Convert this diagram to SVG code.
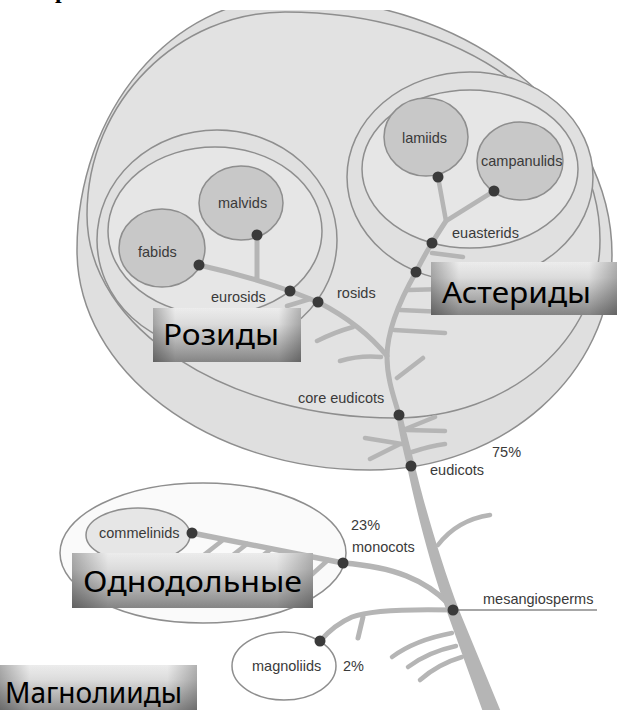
<svg xmlns="http://www.w3.org/2000/svg" width="627" height="710" viewBox="0 0 627 710">
<defs>
<style>
.ring{stroke:#8e8e8e;stroke-width:1.5}
.clade{fill:#c8c8c8;stroke:#8e8e8e;stroke-width:1.5}
.br{fill:none;stroke:#b5b5b5;stroke-linecap:round;stroke-linejoin:round}
.dot{fill:#3a3a3a}
.lbl{font-family:"Liberation Sans",Arial,sans-serif;font-size:14.5px;fill:#3a3a3a}
.big{font-family:"Noto Sans","Open Sans",sans-serif;font-size:29px;fill:#000}
</style>
<clipPath id="top"><rect x="0" y="10" width="627" height="700"/></clipPath>
<linearGradient id="btnV" x1="0" y1="0" x2="0" y2="1">
<stop offset="0" stop-color="#f6f6f6"/>
<stop offset="0.3" stop-color="#e4e4e4"/>
<stop offset="1" stop-color="#8a8a8a"/>
</linearGradient>
<linearGradient id="btnH" x1="0" y1="0" x2="1" y2="0">
<stop offset="0" stop-color="#000" stop-opacity="0.3"/>
<stop offset="0.15" stop-color="#000" stop-opacity="0.04"/>
<stop offset="0.85" stop-color="#000" stop-opacity="0.04"/>
<stop offset="1" stop-color="#000" stop-opacity="0.28"/>
</linearGradient>
</defs>
<rect width="627" height="710" fill="#fff"/>
<text x="55" y="-2" font-family="Liberation Serif,serif" font-weight="bold" font-size="24" fill="#000">р</text>

<g id="eudicots" clip-path="url(#top)">
<path class="ring" fill="#dfdfdf" d="M288,-2 C467,-2 612,113 612,255 C612,374 504,470 370,470 C208,470 77,371 77,250 C77,111 172,-2 288,-2 Z"/>
</g>
<g id="core-eudicots" clip-path="url(#top)">
<path class="ring" fill="#e2e2e2" d="M285,12 C460,12 600,110 600,240 C600,340 510,418 395,418 C230,418 87,330 87,215 C87,100 180,12 285,12 Z"/>
</g>
<g id="rosids"><ellipse class="ring" fill="#e0e0e0" cx="217" cy="240" rx="120" ry="110"/></g>
<g id="eurosids"><ellipse class="ring" fill="#e6e6e6" cx="215" cy="231" rx="107" ry="84"/></g>
<g id="asterids"><ellipse class="ring" fill="#e0e0e0" cx="470" cy="177" rx="123" ry="105"/></g>
<g id="euasterids"><ellipse class="ring" fill="#e6e6e6" cx="470" cy="169" rx="108" ry="79"/></g>
<g id="fabids"><ellipse class="clade" cx="162" cy="248" rx="43" ry="39"/></g>
<g id="malvids"><ellipse class="clade" cx="241" cy="203" rx="42" ry="37"/></g>
<g id="lamiids"><ellipse class="clade" cx="426" cy="137" rx="42" ry="39"/></g>
<g id="campanulids"><ellipse class="clade" cx="520" cy="161" rx="43" ry="39"/></g>
<g id="monocots"><ellipse class="ring" fill="#fafafa" cx="203" cy="553" rx="143" ry="70"/></g>
<g id="commelinids"><ellipse class="ring" fill="#e6e6e6" cx="138" cy="535" rx="52" ry="27"/></g>
<g id="magnoliids"><ellipse class="ring" fill="#fff" cx="284" cy="666" rx="52" ry="34"/></g>

<g id="connectors">
<path fill="#b5b5b5" d="M396,414 L402,414 C406,432 411,450 415,466 C423,500 440,560 459,610 L501,712 L483,712 L447,612 C430,565 415,505 407,466 C403,450 399,432 396,414 Z"/>
<path class="br" stroke-width="5" d="M399,415 C395,400 387,380 387,357 C387,330 400,300 416,272 Q424,256 432,243 Q440,230 446,221"/>
<path class="br" stroke-width="4.5" d="M446,221 L438,177 M446,221 L494,191"/>
<path class="br" stroke-width="5" d="M387,356 C370,335 345,316 318,302 L290,291 C270,284 230,272 199,265 M257,235 L257,280"/>
<path class="br" stroke-width="4.5" d="M287,306 L310,299 M353,327 Q335,332 317,341 M381,357 Q360,355 340,361 M432,253 L463,257 M408,290 L445,289 M400,310 L445,312 M394,330 L445,333 M397,378 L423,358 M403,430 L435,417 M407,430 L445,431 M365,438 L402,444 M370,459 L400,444 M412,452 Q430,446 445,444 M438,545 Q457,520 490,515"/>
<path class="br" stroke-width="5.5" d="M449,604 C425,580 395,567 343,563 L192,533"/>
<path class="br" stroke-width="4.5" d="M223,540 L200,558 M247,544 L224,562 M271,549 L248,567 M296,554 L273,572 M328,560 L308,578"/>
<path class="br" stroke-width="5" d="M453,610 C410,609 370,610 352,617 C338,623 328,632 320,641 M363,617 L358,638"/>
<path class="br" stroke-width="4.5" d="M452,633 Q415,640 392,657 M456,646 Q428,652 408,667 M462,657 Q438,664 420,680"/>
<path fill="none" stroke="#8a8a8a" stroke-width="1.5" d="M453,610 L597,610"/>
<g class="dot">
<circle cx="199" cy="265" r="5.5"/><circle cx="257" cy="235" r="5.5"/>
<circle cx="290" cy="291" r="5.5"/><circle cx="318" cy="302" r="5.5"/>
<circle cx="438" cy="177" r="5.5"/><circle cx="494" cy="191" r="5.5"/>
<circle cx="432" cy="243" r="5.5"/><circle cx="416" cy="272" r="5.5"/>
<circle cx="399" cy="415" r="5.5"/><circle cx="411" cy="466" r="5.5"/>
<circle cx="343" cy="563" r="5.5"/><circle cx="192" cy="533" r="5.5"/>
<circle cx="453" cy="610" r="5.5"/><circle cx="320" cy="641" r="5.5"/>
</g>
</g>

<g id="labels">
<text class="lbl" x="138" y="257">fabids</text>
<text class="lbl" x="218" y="208">malvids</text>
<text class="lbl" x="211" y="302">eurosids</text>
<text class="lbl" x="337" y="298">rosids</text>
<text class="lbl" x="402" y="143">lamiids</text>
<text class="lbl" x="481" y="166">campanulids</text>
<text class="lbl" x="452" y="238">euasterids</text>
<text class="lbl" x="298" y="403">core eudicots</text>
<text class="lbl" x="492" y="457">75%</text>
<text class="lbl" x="430" y="475">eudicots</text>
<text class="lbl" x="99" y="538">commelinids</text>
<text class="lbl" x="351" y="530">23%</text>
<text class="lbl" x="352" y="552">monocots</text>
<text class="lbl" x="483" y="604">mesangiosperms</text>
<text class="lbl" x="252" y="671">magnoliids</text>
<text class="lbl" x="343" y="671">2%</text>
</g>

<g id="title-rozidy">
<rect x="153" y="308" width="148" height="54" fill="url(#btnV)"/>
<rect x="153" y="308" width="148" height="54" fill="url(#btnH)"/>
<text class="big" x="163" y="345" textLength="116" lengthAdjust="spacingAndGlyphs">Розиды</text>
</g>
<g id="title-asteridy">
<rect x="431" y="262" width="186" height="53" fill="url(#btnV)"/>
<rect x="431" y="262" width="186" height="53" fill="url(#btnH)"/>
<text class="big" x="442" y="303" textLength="149" lengthAdjust="spacingAndGlyphs">Астериды</text>
</g>
<g id="title-odnodolnye">
<rect x="72" y="553" width="241" height="55" fill="url(#btnV)"/>
<rect x="72" y="553" width="241" height="55" fill="url(#btnH)"/>
<text class="big" x="83" y="592" textLength="219" lengthAdjust="spacingAndGlyphs">Однодольные</text>
</g>
<g id="title-magnoliidy">
<rect x="0" y="665" width="197" height="50" fill="url(#btnV)"/>
<rect x="0" y="665" width="197" height="50" fill="url(#btnH)"/>
<text class="big" x="5" y="703" font-size="32" textLength="177" lengthAdjust="spacingAndGlyphs">Магнолииды</text>
</g>
</svg>
